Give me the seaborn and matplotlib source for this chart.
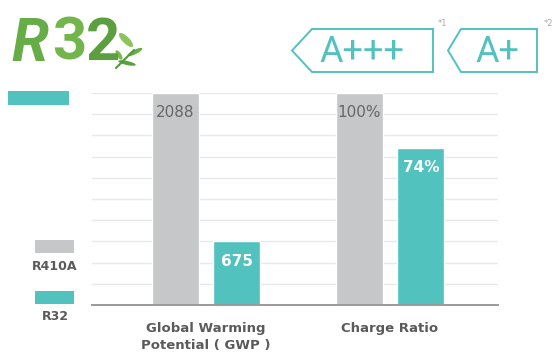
import matplotlib
matplotlib.use("Agg")
import matplotlib.pyplot as plt
import seaborn as sns
import pandas as pd
from matplotlib.patches import Rectangle, Polygon, Ellipse
from matplotlib.lines import Line2D

# ---- data ----
categories = ["Global Warming\nPotential ( GWP )", "Charge Ratio"]
series = ["R410A", "R32"]
r410a_heights = [100, 100]     # relative bar heights (%)
r32_heights = [30, 74]
r410a_labels = ["2088", "100%"]
r32_labels = ["675", "74%"]
tag_texts = ["A+++", "A+"]
tag_notes = ["*1", "*2"]

TEAL = "#52c2bf"
GRAY = "#c6c7c9"
TXT = "#5a5a5a"

df = pd.DataFrame({
    "category": categories * 2,
    "refrigerant": [series[0]] * 2 + [series[1]] * 2,
    "value": r410a_heights + r32_heights,
})

sns.set_theme(style="white")
plt.rcParams["font.family"] = ["DejaVu Sans"]

W, H = 560, 364
fig = plt.figure(figsize=(W / 100, H / 100), dpi=100)
ax = fig.add_axes([92 / W, 1 - 305 / H, (498 - 92) / W, (305 - 93) / H])

sns.barplot(data=df, x="category", y="value", hue="refrigerant",
            palette=[GRAY, TEAL], width=0.672, gap=0.24, ax=ax,
            legend=False, zorder=3, saturation=1)

ax.set_xlim(-0.62, 1.587)
ax.set_ylim(0, 100)
ax.set_yticks(range(10, 101, 10))
ax.yaxis.grid(True, color="#e8e8e8", lw=1, zorder=0)
ax.xaxis.grid(False)
ax.tick_params(axis="y", left=False, labelleft=False)
ax.tick_params(axis="x", bottom=False, pad=6)
for s in ["top", "right", "left"]:
    ax.spines[s].set_visible(False)
ax.spines["bottom"].set_color("#9a9a9a")
ax.spines["bottom"].set_linewidth(1.4)
ax.spines["bottom"].set_zorder(4)
ax.set_xlabel("")
ax.set_ylabel("")
for lab in ax.get_xticklabels():
    lab.set_fontsize(9.5)
    lab.set_fontweight("bold")
    lab.set_color(TXT)
    lab.set_linespacing(1.45)
    lab.set_verticalalignment("top")

# value labels
label_sets = [r410a_labels, r32_labels]
label_colors = ["#666666", "white"]
label_weights = ["normal", "bold"]
for cont, labels, col, wt in zip(ax.containers, label_sets, label_colors, label_weights):
    for bar, txt in zip(cont, labels):
        ax.text(bar.get_x() + bar.get_width() / 2, bar.get_height() - 9.3, txt,
                ha="center", va="center", fontsize=11, color=col,
                fontweight=wt, zorder=5)

# helpers in pixel coords (from top-left)
def fx(x):
    return x / W

def fy(y):
    return 1 - y / H

# left legend
fig.add_artist(Rectangle((fx(8), fy(105)), 61 / W, 14 / H, transform=fig.transFigure,
                         color=TEAL, lw=0))
fig.add_artist(Rectangle((fx(35), fy(253)), 39 / W, 13 / H, transform=fig.transFigure,
                         color=GRAY, lw=0))
fig.text(fx(55), fy(266), series[0], ha="center", va="center", fontsize=9,
         fontweight="bold", color=TXT)
fig.add_artist(Rectangle((fx(35), fy(304)), 39 / W, 13 / H, transform=fig.transFigure,
                         color=TEAL, lw=0))
fig.text(fx(55), fy(317), series[1], ha="center", va="center", fontsize=9,
         fontweight="bold", color=TXT)

# R32 logo
fig.text(fx(30), fy(44), "R", ha="center", va="center", fontsize=43,
         family="Roboto", fontweight="bold", style="italic", color="#66ad47")
fig.text(fx(69), fy(44), "3", ha="center", va="center", fontsize=43,
         family="Roboto", fontweight="bold", color="#73b54d")
fig.text(fx(103), fy(44), "2", ha="center", va="center", fontsize=43,
         family="Roboto", fontweight="bold", color="#5c9f3e")
# leaves
fig.add_artist(Line2D([fx(116), fx(134)], [fy(68), fy(50)], transform=fig.transFigure,
                      color="#4f9a3a", lw=1.5))
for (cx, cy, w, h, ang, c) in [(126, 40, 8, 16, 30, "#8cc35a"),
                               (135, 52, 6, 12, -50, "#6aae45"),
                               (127, 63, 6, 12, 70, "#5aa03f"),
                               (119, 55, 5, 10, 20, "#7ab94f")]:
    fig.add_artist(Ellipse((fx(cx), fy(cy)), w / W, h / H, angle=ang,
                           transform=fig.transFigure, color=c, lw=0))

# energy tags
def tag(x0, x1, xt, ytop, ybot, text, textx, note, notex):
    ym = (ytop + ybot) / 2
    pts = [(fx(x0), fy(ym)), (fx(xt), fy(ytop)), (fx(x1), fy(ytop)),
           (fx(x1), fy(ybot)), (fx(xt), fy(ybot))]
    fig.add_artist(Polygon(pts, closed=True, fill=False, edgecolor=TEAL, lw=1.4,
                           transform=fig.transFigure))
    fig.text(fx(textx), fy(ym + 1), text, ha="center", va="center",
             fontsize=26, family="Roboto", fontweight="normal", color=TEAL)
    fig.text(fx(notex), fy(23), note, ha="center", va="center", fontsize=6,
             color="#aaaaaa")

tag(292, 433, 312, 29, 72, tag_texts[0], 362, tag_notes[0], 442)
tag(448, 537, 461, 29, 72, tag_texts[1], 497, tag_notes[1], 548)

fig.savefig("out.png", dpi=100)
